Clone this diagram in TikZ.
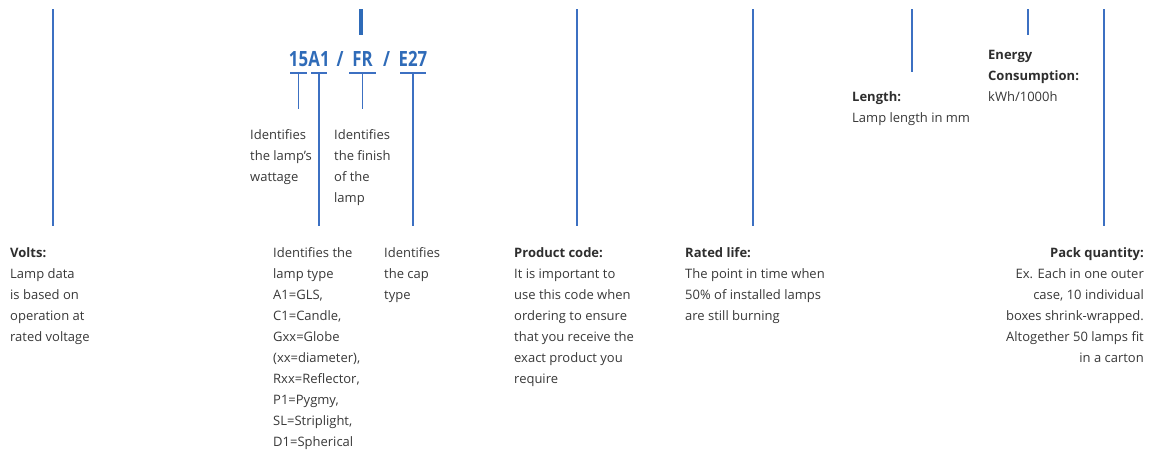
\documentclass[tikz,border=0pt]{standalone}
\usepackage{fontspec}
\setmainfont{Open Sans}
\newfontfamily\codefont[FakeStretch=0.8]{Open Sans}
\definecolor{txt}{HTML}{383838}
\definecolor{lbl}{HTML}{2E2E2E}
\definecolor{gelink}{HTML}{3C70C2}
\definecolor{gecode}{HTML}{2F6BB8}
\begin{document}
\begin{tikzpicture}[x=1pt,y=-1pt,
  body/.style={anchor=north west, inner sep=0pt, align=left, text=txt,
    font=\fontsize{13}{21}\selectfont},
  bodyr/.style={body, anchor=north east, align=right},
  lead/.style={draw=gelink, line width=1.3pt},
  bar/.style={draw=gecode, line width=4pt},
  code/.style={text=gecode, font=\codefont\bfseries\fontsize{21}{21}\selectfont, inner sep=0pt, anchor=base}]
\useasboundingbox (0,0) rectangle (1158,450);
\newcommand{\hd}[1]{{\color{lbl}\bfseries #1}}

% code text
\node[code] (c15) at (298.5,66) {15};
\node[code] (cA1) at (319,66) {A1};
\node[code] (s1) at (340,66) {/};
\node[code] (cFR) at (362.5,66) {FR};
\node[code] (s2) at (386.5,66) {/};
\node[code] (cE27) at (413,66) {E27};

% text blocks
\node[body] (volts) at (10,247.3) {\hd{Volts:}\\Lamp data\\is based on\\operation at\\rated voltage};
\node[body] (watt) at (250,129.3) {Identifies\\the lamp’s\\wattage};
\node[body] (finish) at (334,129.3) {Identifies\\the finish\\of the\\lamp};
\node[body] (ltype) at (273,247.3) {Identifies the\\lamp type\\A1=GLS,\\C1=Candle,\\Gxx=Globe\\(xx=diameter),\\Rxx=Reflector,\\P1=Pygmy,\\SL=Striplight,\\D1=Spherical};
\node[body] (captype) at (384,247.3) {Identifies\\the cap\\type};
\node[body] (prod) at (514,247.3) {\hd{Product code:}\\It is important to\\use this code when\\ordering to ensure\\that you receive the\\exact product you\\require};
\node[body] (rated) at (685,247.3) {\hd{Rated life:}\\The point in time when\\50\% of installed lamps\\are still burning};
\node[body] (length) at (852,91.3) {\hd{Length:}\\Lamp length in mm};
\node[body] (energy) at (988,50.3) {\hd{Energy}\\\hd{Consumption:}\\kWh/1000h};
\node[bodyr] (pack) at (1144,247.3) {\hd{Pack quantity:}\\Ex. Each in one outer\\case, 10 individual\\boxes shrink-wrapped.\\Altogether 50 lamps fit\\in a carton};

% free ends of the leader lines
\coordinate (tV) at (53,9);    \coordinate (bV) at (53,226);
\coordinate (tB) at (361,9);   \coordinate (bB) at (361,35);
\coordinate (tP) at (577,9);   \coordinate (bP) at (577,226);
\coordinate (tR) at (753,9);   \coordinate (bR) at (753,226);
\coordinate (tL) at (912,9);   \coordinate (bL) at (912,72);
\coordinate (tE) at (1028,9);  \coordinate (bE) at (1028,35);
\coordinate (tQ) at (1104,9);  \coordinate (bQ) at (1104,226);

\draw[lead] (tV) -- (bV);
\draw[bar] (tB) -- (bB);
\draw[lead] (tP) -- (bP);
\draw[lead] (tR) -- (bR);
\draw[lead] (tL) -- (bL);
\draw[lead] (tE) -- (bE);
\draw[lead] (tQ) -- (bQ);

% brackets under the code
\coordinate (k15) at (298.5,73);
\coordinate (kA1) at (319,73);
\coordinate (kFR) at (362.5,73);
\coordinate (kE27) at (413,73);
\draw[lead] (290,73) -- (307,73);
\draw[lead] (311,73) -- (327,73);
\draw[lead] (349,73) -- (376,73);
\draw[lead] (400,73) -- (426,73);
\draw[lead] (k15) -- (298.5,109);
\draw[lead] (kA1) -- (319,226);
\draw[lead] (kFR) -- (362.5,109);
\draw[lead] (kE27) -- (413,226);
\end{tikzpicture}
\end{document}
